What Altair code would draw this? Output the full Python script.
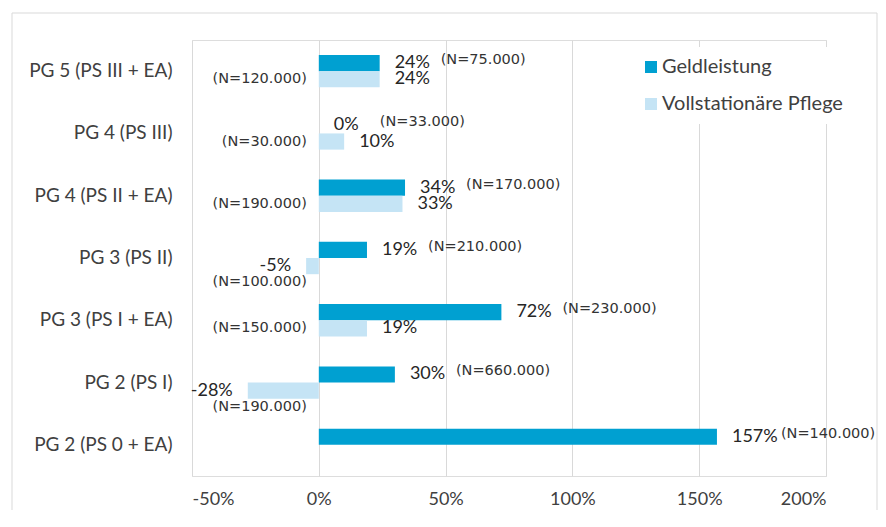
import altair as alt
import pandas as pd

categories = [
    "PG 5 (PS III + EA)",
    "PG 4 (PS III)",
    "PG 4 (PS II + EA)",
    "PG 3 (PS II)",
    "PG 3 (PS I + EA)",
    "PG 2 (PS I)",
    "PG 2 (PS 0 + EA)",
]
series_names = ["Geldleistung", "Vollstationäre Pflege"]
geld_pct = [24, 0, 34, 19, 72, 30, 157]
geld_n = ["(N=75.000)", "(N=33.000)", "(N=170.000)", "(N=210.000)",
          "(N=230.000)", "(N=660.000)", "(N=140.000)"]
voll_pct = [24, 10, 33, -5, 19, -28, None]
voll_n = ["(N=120.000)", "(N=30.000)", "(N=190.000)", "(N=100.000)",
          "(N=150.000)", "(N=190.000)", None]
x_ticks = [-0.5, 0, 0.5, 1.0, 1.5, 2.0]
colors = ["#00A0D1", "#C5E4F5"]

rows = []
for c, v, n in zip(categories, geld_pct, geld_n):
    rows.append(dict(cat=c, series=series_names[0], value=v / 100, label=f"{v}%", n=n, zero=0))
for c, v, n in zip(categories, voll_pct, voll_n):
    if v is None:
        continue
    rows.append(dict(cat=c, series=series_names[1], value=v / 100, label=f"{v}%", n=n, zero=0))
df = pd.DataFrame(rows)

W, H = 634, 436
FONT = "Lato"
NFONT = "DejaVu Sans"

x_scale = alt.Scale(domain=[-0.5, 2.0], nice=False, zero=False)
x_axis = alt.Axis(title=None, values=x_ticks, format=".0%",
                  labelExpr="replace(datum.label, '\u2212', '-')",
                  grid=True, gridColor="#D9D9D9",
                  gridWidth=1, domain=False, ticks=False, labelPadding=14, labelFont=FONT,
                  labelFontSize=18, labelColor="#404040")
x_enc = alt.X("value:Q", scale=x_scale, axis=x_axis)
x0_enc = alt.X("zero:Q", scale=x_scale, axis=x_axis)
y_enc = alt.Y("cat:N", sort=categories,
              scale=alt.Scale(domain=categories, paddingInner=0.48, paddingOuter=0.24),
              axis=alt.Axis(title=None, domain=False, ticks=False, grid=False, labelPadding=20,
                            labelFont=FONT, labelFontSize=19, labelColor="#404040", labelLimit=300))
yoff = alt.YOffset("series:N", sort=series_names,
                   scale=alt.Scale(domain=series_names, paddingInner=0, paddingOuter=0))

base = alt.Chart(df)

bars = base.mark_bar().encode(
    x=x_enc,
    x2="zero:Q",
    y=y_enc,
    yOffset=yoff,
    color=alt.Color(
        "series:N",
        scale=alt.Scale(domain=series_names, range=colors),
        legend=alt.Legend(title=None, orient="none", legendX=439, legendY=7, symbolType="square",
                          symbolSize=144, symbolStrokeWidth=0, symbolOpacity=1, labelFont=FONT,
                          labelFontSize=20, labelColor="#404040", labelOffset=1, rowPadding=17,
                          padding=10, fillColor="white", labelLimit=300),
    ),
)

txt_style = dict(font=FONT, fontSize=18, color="#262626", baseline="middle")
n_style = dict(font=NFONT, fontSize=14.5, color="#333333", baseline="middle")

G = f"datum.series == '{series_names[0]}'"
V = f"datum.series == '{series_names[1]}'"

geld_val = base.transform_filter(G).mark_text(
    align="left", dx=15, **txt_style).encode(x=x_enc, y=y_enc, yOffset=yoff, text="label:N")
voll_val_pos = base.transform_filter(f"{V} && datum.value >= 0").mark_text(
    align="left", dx=15, **txt_style).encode(x=x_enc, y=y_enc, yOffset=yoff, text="label:N")
voll_val_neg = base.transform_filter(f"{V} && datum.value < 0").mark_text(
    align="right", dx=-15, **txt_style).encode(x=x_enc, y=y_enc, yOffset=yoff, text="label:N")

geld_n_short = base.transform_filter(f"{G} && length(datum.label) <= 3").mark_text(
    align="left", dx=61, dy=-3, **n_style).encode(x=x_enc, y=y_enc, yOffset=yoff, text="n:N")
geld_n_long = base.transform_filter(f"{G} && length(datum.label) > 3").mark_text(
    align="left", dx=64, dy=-3, **n_style).encode(x=x_enc, y=y_enc, yOffset=yoff, text="n:N")

voll_n_pos = base.transform_filter(f"{V} && datum.value >= 0").mark_text(
    align="right", dx=-12, dy=0, **n_style).encode(x=x0_enc, y=y_enc, yOffset=yoff, text="n:N")
voll_n_neg = base.transform_filter(f"{V} && datum.value < 0").mark_text(
    align="right", dx=-12, dy=16, **n_style).encode(x=x0_enc, y=y_enc, yOffset=yoff, text="n:N")

frame = alt.Chart(pd.DataFrame({"a": [0]})).mark_rect(
    fillOpacity=0, stroke="#D9D9D9", strokeWidth=1).encode(
    x=alt.value(-180), x2=alt.value(685), y=alt.value(-27), y2=alt.value(520))

chart = alt.layer(
    frame, bars, geld_val, voll_val_pos, voll_val_neg, geld_n_short, geld_n_long,
    voll_n_pos, voll_n_neg,
).properties(
    width=W, height=H,
    autosize=alt.AutoSizeParams(type="none"),
    padding={"left": 184, "top": 32, "right": 52, "bottom": 34},
).configure_view(strokeWidth=0).configure(background="white")

chart.save("out.html", embed_options={"renderer": "svg", "actions": False})
